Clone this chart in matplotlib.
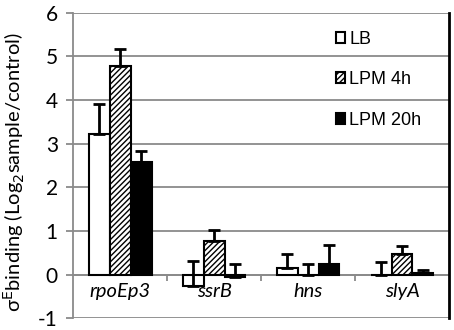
import numpy as np
import matplotlib
matplotlib.use("Agg")
import matplotlib.pyplot as plt
from matplotlib.patches import Patch

genes = ['rpoEp3', 'ssrB', 'hns', 'slyA']
series = ['LB', 'LPM 4h', 'LPM 20h']
lb = [3.22, -0.27, 0.14, -0.02]
lb_err = [0.70, 0.57, 0.32, 0.30]
lpm4 = [4.79, 0.76, -0.02, 0.46]
lpm4_err = [0.37, 0.25, 0.27, 0.20]
lpm20 = [2.58, -0.05, 0.25, 0.03]
lpm20_err = [0.25, 0.30, 0.42, 0.07]

plt.rcParams['hatch.linewidth'] = 1.0
plt.rcParams['axes.unicode_minus'] = False
fig = plt.figure(figsize=(4.54, 3.30), dpi=100)
ax = fig.add_axes([0.161, 0.036, 0.828, 0.925])

x = np.arange(len(genes))
w = 0.223
estilos = [dict(color='white', hatch=None), dict(color='white', hatch='//////'),
           dict(color='black', hatch=None)]
dados = [(lb, lb_err), (lpm4, lpm4_err), (lpm20, lpm20_err)]
for i, (vals, errs) in enumerate(dados):
    pos = x + (i - 1) * w
    ax.bar(pos, vals, w, facecolor=estilos[i]['color'], edgecolor='black',
           hatch=estilos[i]['hatch'], linewidth=1.5, zorder=3)
    ax.errorbar(pos, vals, yerr=[np.zeros(len(errs)), errs], fmt='none',
                ecolor='black', elinewidth=2, capsize=4.3, capthick=2, zorder=4)

ax.set_xlim(-0.5, 3.5)
ax.set_ylim(-1, 6)
ax.set_yticks(range(-1, 7))
ax.yaxis.grid(True, color='#8a8a8a', linewidth=1.3)
ax.set_axisbelow(True)

ax.spines['top'].set_visible(False)
ax.spines['bottom'].set_position(('data', 0))
ax.spines['bottom'].set_color('#8a8a8a')
ax.spines['bottom'].set_linewidth(1.3)
ax.spines['bottom'].set_zorder(2)
ax.spines['left'].set_color('#8a8a8a')
ax.spines['left'].set_linewidth(1.3)
ax.spines['right'].set_color('black')
ax.spines['right'].set_linewidth(2)

ax.set_xticks([0.5, 1.5, 2.5])
ax.set_xticklabels([])
ax.set_xticks(x, minor=True)
ax.set_xticklabels(genes, minor=True, style='italic', fontsize=14.5, family='Lato')
ax.tick_params(axis='x', which='major', length=4, width=1.3, color='#8a8a8a', direction='out')
ax.tick_params(axis='x', which='minor', length=0, pad=6)
ax.tick_params(axis='y', length=5, width=1.3, color='#8a8a8a', labelsize=15, pad=6)
for t in ax.get_yticklabels():
    t.set_family('Lato')

ax.set_ylabel(r'σ$^{\mathrm{E}}$binding (Log$_2$sample/control)', fontsize=14.5, family='Lato')
ax.yaxis.set_label_coords(-0.122, 0.479)

handles = [Patch(facecolor='white', edgecolor='black', linewidth=1.5),
           Patch(facecolor='white', edgecolor='black', hatch='//////', linewidth=1.5),
           Patch(facecolor='black', edgecolor='black', linewidth=1.5)]
ax.legend(handles, series, loc='upper left', bbox_to_anchor=(0.655, 0.995), frameon=False,
          prop={'family': 'Liberation Sans', 'size': 13}, handlelength=0.55, handleheight=0.55,
          handletextpad=0.2, labelspacing=1.3)

fig.savefig('out.png', dpi=100)
